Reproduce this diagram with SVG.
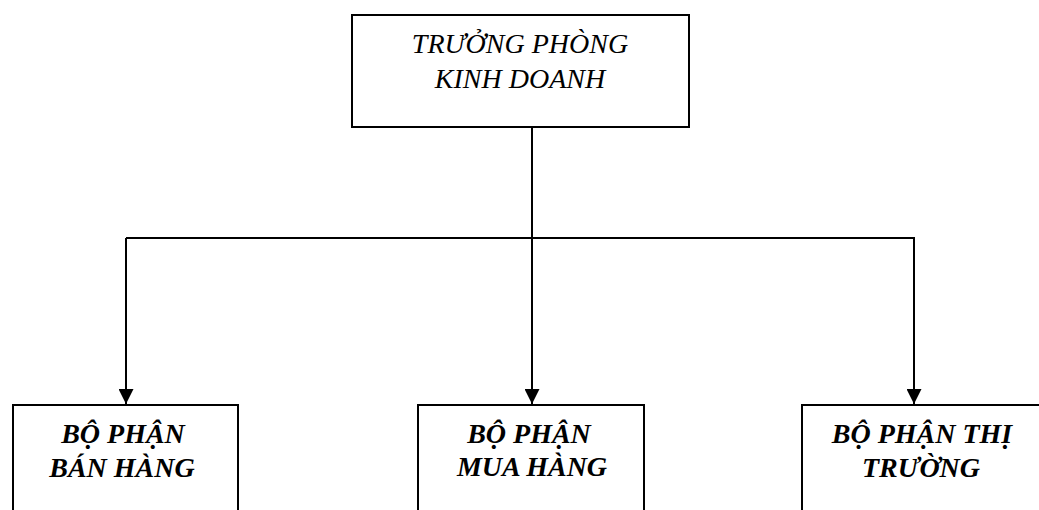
<svg xmlns="http://www.w3.org/2000/svg" width="1039" height="510" viewBox="0 0 1039 510">
  <style>
    .box { fill: #ffffff; stroke: #000000; stroke-width: 2; }
    .line { fill: none; stroke: #000000; stroke-width: 2; }
    .head { fill: #000000; }
    .title { font-family: "Liberation Serif", "Times New Roman", serif; font-style: italic; font-size: 28px; fill: #000000; text-anchor: middle; }
    .unit { font-family: "Liberation Serif", "Times New Roman", serif; font-style: italic; font-weight: bold; font-size: 28px; fill: #000000; text-anchor: middle; }
  </style>
  <defs>
    <marker id="arrow" viewBox="0 0 15 15" refX="15" refY="7.5" markerWidth="15" markerHeight="15" markerUnits="userSpaceOnUse" orient="auto">
      <path class="head" d="M0,0 L15,7.5 L0,15 Z"/>
    </marker>
  </defs>
  <rect width="1039" height="510" fill="#ffffff"/>

  <!-- trunk from the head office down to the middle unit, and the branch bar to the side units -->
  <g id="connectors">
    <line class="line" x1="532" y1="127" x2="532" y2="404" marker-end="url(#arrow)"/>
    <polyline class="line" points="126,238 914,238 914,404" marker-end="url(#arrow)"/>
    <line class="line" x1="126" y1="238" x2="126" y2="404" marker-end="url(#arrow)"/>
  </g>

  <g id="truong-phong">
    <rect class="box" x="352" y="15" width="337" height="112"/>
    <text class="title" x="520" y="53">TRƯỞNG PHÒNG</text>
    <text class="title" x="520" y="88">KINH DOANH</text>
  </g>

  <g id="ban-hang">
    <rect class="box" x="13" y="405" width="225" height="120"/>
    <text class="unit" x="123" y="443">BỘ PHẬN</text>
    <text class="unit" x="122" y="477">BÁN HÀNG</text>
  </g>

  <g id="mua-hang">
    <rect class="box" x="418" y="405" width="226" height="120"/>
    <text class="unit" x="529" y="443">BỘ PHẬN</text>
    <text class="unit" x="532" y="476">MUA HÀNG</text>
  </g>

  <g id="thi-truong">
    <rect class="box" x="802" y="405" width="240" height="120"/>
    <text class="unit" x="922" y="443">BỘ PHẬN THỊ</text>
    <text class="unit" x="921" y="477">TRƯỜNG</text>
  </g>
</svg>
